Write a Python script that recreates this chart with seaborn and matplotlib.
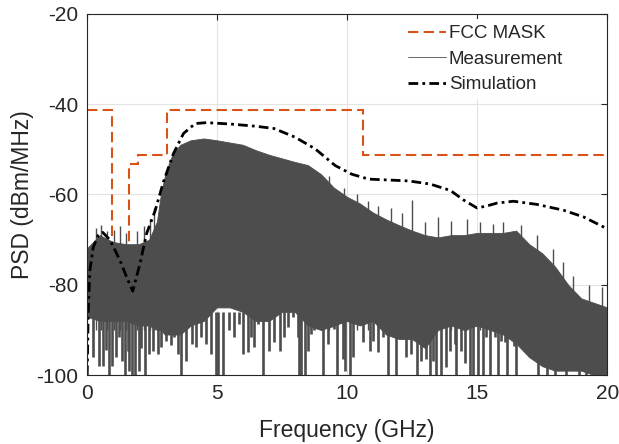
import matplotlib
matplotlib.use("Agg")
import matplotlib.pyplot as plt
import seaborn as sns
import numpy as np

# FCC indoor mask (step edges in GHz, level in dBm/MHz)
mask_edges = [0, 0.96, 1.61, 1.99, 3.1, 10.6, 20]
mask_level = [-41.3, -75.3, -53.3, -51.3, -41.3, -51.3]

# simulated PSD
sim_freq = [0.02, 0.06, 0.12, 0.25, 0.45, 0.62, 0.9, 1.28, 1.55, 1.77, 2.05, 2.3, 2.63,
            2.95, 3.33, 3.72, 4.17, 4.6, 5.5, 6.5, 7.2, 8.0, 8.78, 9.55, 10.18, 10.83,
            11.6, 12.37, 13.2, 13.97, 14.5, 15.0, 15.4, 15.77, 16.4, 17.3, 18.33, 19.1, 20.0]
sim_psd = [-100, -86, -77, -71.7, -69, -68.4, -70.1, -74.6, -78.5, -81.4, -75.3, -68.7, -63.6,
           -57.2, -51.0, -46.5, -44.3, -44.1, -44.4, -44.9, -45.4, -47.3, -49.9, -53.6, -55.5, -56.6,
           -56.8, -57.0, -57.7, -59.1, -61.3, -63.0, -62.5, -61.9, -61.5, -62.2, -63.5, -65.0, -67.6]

# measured PSD: dense band read as upper / lower envelope of the solid part
env_freq = [0, 0.5, 1.0, 1.5, 2.0, 2.4, 2.7, 2.85, 3.0, 3.3, 3.6, 4.0, 4.5, 5.0, 5.5, 6.0,
            6.5, 7.0, 7.5, 8.0, 8.5, 9.0, 9.5, 10.0, 10.5, 11.0, 11.5, 12.0, 12.5, 13.0,
            13.5, 14.0, 14.5, 15.0, 15.5, 16.0, 16.5, 17.0, 17.5, 18.0, 18.5, 19.0, 19.5, 20.0]
env_upper = [-72, -69, -70.5, -71, -71, -70, -66, -60, -56, -51, -49, -48, -47.6, -48, -48.5, -49,
             -50.2, -51.2, -52, -52.8, -53.5, -55.5, -58.5, -60.5, -62, -64, -65.5, -66.8, -68, -69,
             -69.5, -69, -69, -68.5, -68.5, -68.5, -68, -71, -73, -76, -80, -83, -84, -85]
env_lower = [-87, -88, -88, -88, -89, -89, -90, -90, -91, -91, -91, -89, -88, -85, -85, -86,
             -88, -88, -86, -86, -89, -90, -89, -88, -89, -88, -91, -92, -92, -94,
             -90, -89, -90, -89, -90, -91, -93, -96, -98, -99, -99, -99, -100, -100]

# deep downward spikes of the measurement (freq, lowest value)
dip_freq = [0.26, 0.49, 0.64, 0.74, 0.87, 0.96, 1.13, 1.26, 1.36, 1.49, 1.6, 1.64, 1.73, 1.87,
            2.0, 2.09, 2.25, 2.41, 2.54, 2.73, 2.86, 3.05, 3.25, 3.37, 3.5, 3.63, 3.82, 4.05,
            4.2, 4.4, 4.6, 4.78, 4.97, 5.03, 5.23, 5.48, 5.67, 5.87, 6.0, 6.19, 6.32, 6.44,
            6.57, 6.76, 7.02, 7.21, 7.41, 7.6, 7.73, 7.92, 8.11, 8.17, 8.24, 8.37, 8.5, 8.62,
            8.75, 8.88, 9.07, 9.27, 9.39, 9.52, 9.6, 9.84, 9.94, 10.1, 10.23, 10.61, 10.87, 11.0,
            11.19, 11.38, 11.57, 11.87, 12.09, 12.28, 12.47, 12.69, 12.85, 13.05, 13.18, 13.3,
            13.43, 13.62, 13.79, 13.94, 14.14, 14.2, 14.39, 14.52, 14.71, 14.84, 15.03, 15.23,
            15.35, 15.48, 15.67, 15.8, 15.93, 16.08, 16.13, 16.41, 16.51, 16.95, 17.34, 17.53,
            17.69, 17.73, 18.0, 18.4, 18.9, 19.2, 19.5]
dip_floor = [-96, -98, -98, -94.5, -100, -98, -96, -91.6, -96.8, -100, -94.6, -99, -100, -100,
             -99, -94, -100, -95.3, -94.6, -95.3, -93.8, -92.4, -93.3, -91.6, -95.3, -100, -96.8, -93.1,
             -93.8, -91.6, -93.1, -95.3, -100, -100, -100, -90.1, -91.6, -88.7, -95.3, -94.9, -91.6, -93.8,
             -88.7, -100, -94.6, -92.7, -94.6, -91.6, -89.4, -87.2, -91.6, -100, -100, -100, -94.6, -90.9,
             -90.1, -89.4, -100, -93.1, -89.4, -89.8, -100, -96.4, -99, -100, -96, -92.7, -94.6, -92.4,
             -94.9, -91.6, -100, -100, -91.6, -96, -95.3, -100, -96.8, -96.4, -100, -96.8,
             -100, -100, -98.3, -94.6, -93.1, -100, -94.6, -97.2, -100, -100, -100, -100,
             -91.6, -100, -91.6, -100, -92.4, -92.7, -100, -93.5, -100, -95.3, -100, -96.8,
             -100, -98.3, -100, -100, -100, -100, -100]

# peaks sticking out above the band (freq, top value)
peak_freq = [0.35, 0.55, 0.8, 1.05, 1.3, 1.5, 1.95, 2.2, 2.45, 2.6, 3.15, 9.3, 9.9, 10.4, 10.8,
             11.2, 11.7, 12.1, 12.5, 13.0, 13.5, 14.0, 14.6, 15.1, 15.6, 16.0, 16.7, 17.3, 17.9,
             18.3, 18.7, 19.3, 19.8]
peak_top = [-67.5, -66.8, -68, -67.8, -67, -68.5, -68, -67, -65.5, -63, -53, -56, -58.5, -60, -61.5,
            -62.5, -63, -64, -61.3, -66, -65, -65.8, -65.5, -66, -66.5, -66, -66.8, -69, -72,
            -75, -78, -80, -80.5]

sns.set_theme(style="white")
plt.rcParams['font.family'] = ['Liberation Sans', 'DejaVu Sans']
plt.rcParams['axes.unicode_minus'] = False

meas_color = '#4d4d4d'
mask_color = '#D95319'
text_color = '#262626'

fig = plt.figure(figsize=(6.19, 4.44), dpi=100)
ax = fig.add_axes([0.140, 0.155, 0.841, 0.814])

# FCC mask (sits behind the measurement)
ax.stairs(mask_level, mask_edges, baseline=None, color=mask_color, linewidth=1.5,
          linestyle=(0, (5, 2.5)), zorder=1.5, label='FCC MASK')

# measurement
ax.fill_between(env_freq, env_lower, env_upper, color=meas_color, linewidth=0.6, zorder=2)
ax.vlines(dip_freq, dip_floor, -86, color=meas_color, linewidth=1.9, zorder=2)
ax.vlines(peak_freq, -90, peak_top, color=meas_color, linewidth=1.0, zorder=2)
ax.plot([], [], color=meas_color, linewidth=0.6, label='Measurement')

# simulation
sns.lineplot(x=sim_freq, y=sim_psd, ax=ax, color='black', linewidth=2,
             linestyle=(0, (3.5, 1.5, 1, 1.5)), zorder=4, label='Simulation', sort=False)

ax.set_xlim(0, 20)
ax.set_ylim(-100, -20)
ax.set_xticks([0, 5, 10, 15, 20])
ax.set_yticks([-100, -80, -60, -40, -20])
ax.grid(True, color='#e3e3e3', linewidth=0.8)
ax.set_axisbelow(True)
for s in ax.spines.values():
    s.set_color(text_color)
    s.set_linewidth(0.8)
    s.set_zorder(5)
ax.tick_params(direction='in', length=4, width=0.8, colors=text_color, labelsize=15,
               top=True, right=True, labelcolor=text_color, pad=6)
ax.set_xlabel('Frequency (GHz)', fontsize=16.5, color=text_color, labelpad=12)
ax.set_ylabel('PSD (dBm/MHz)', fontsize=16.5, color=text_color, labelpad=2)

handles, labels = ax.get_legend_handles_labels()
order = [labels.index(n) for n in ['FCC MASK', 'Measurement', 'Simulation']]
leg = ax.legend([handles[i] for i in order], [labels[i] for i in order], loc='upper left',
                bbox_to_anchor=(0.6, 0.995), fontsize=13.5, frameon=True, facecolor='white',
                edgecolor='none', framealpha=1, handlelength=2.0, handletextpad=0.15,
                labelspacing=0.45, borderaxespad=0.2, borderpad=0.3)
leg.set_zorder(6)

plt.savefig('out.png', dpi=100)
plt.close()
